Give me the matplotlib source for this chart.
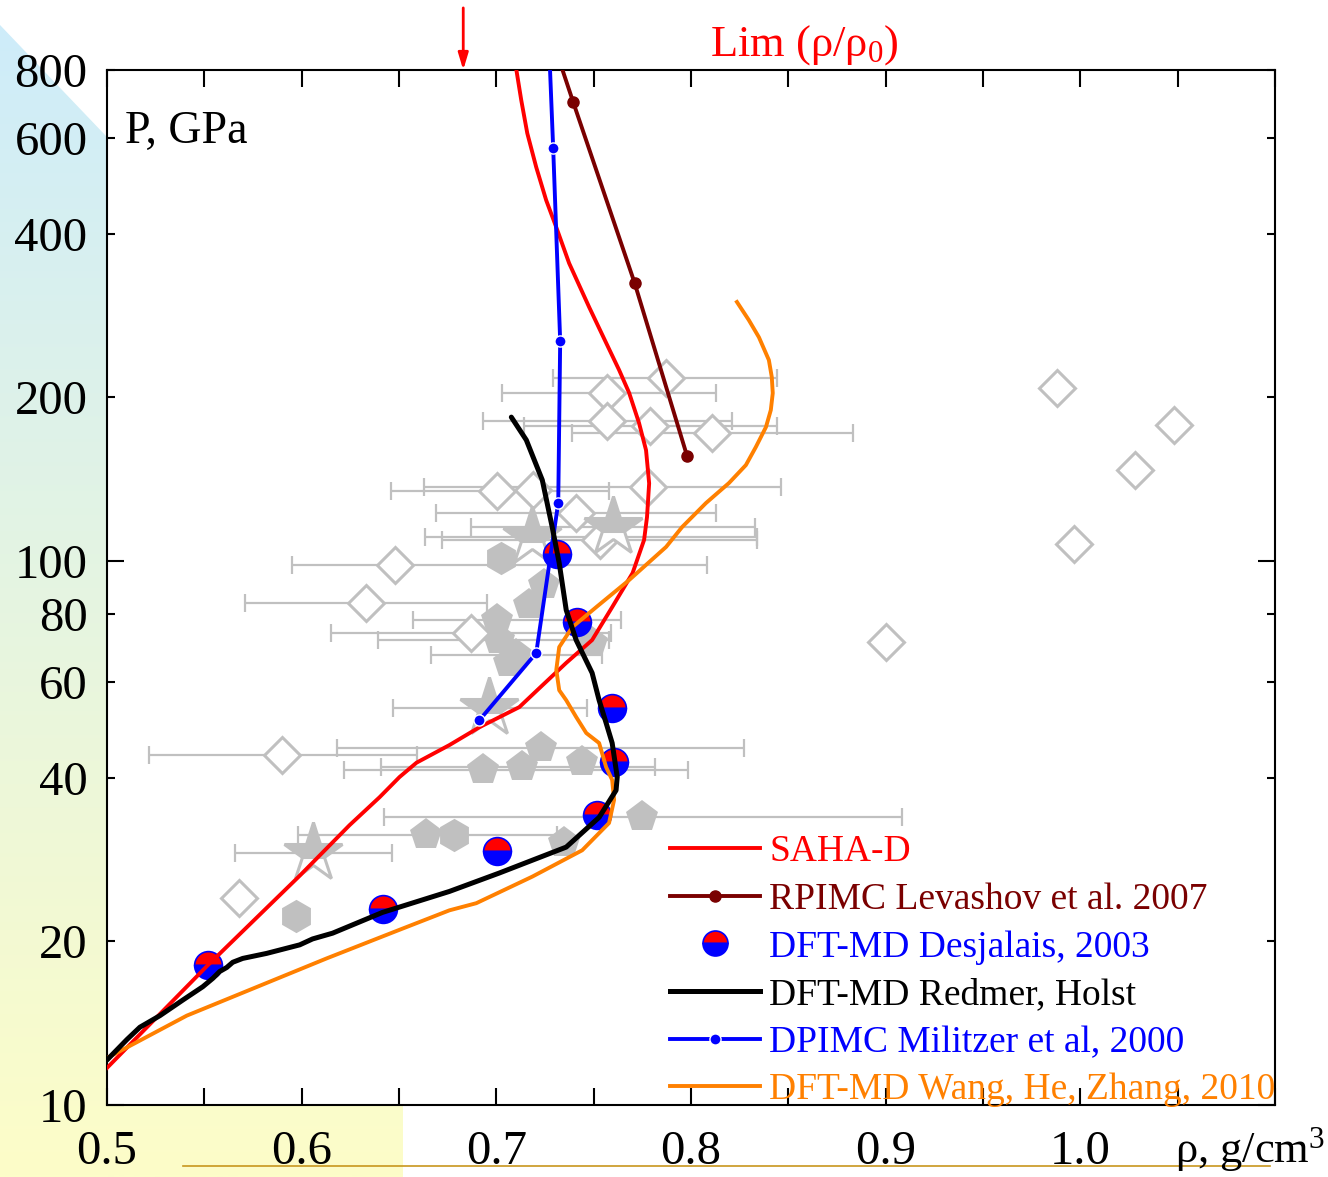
import numpy as np
import matplotlib
matplotlib.use("Agg")
import matplotlib.pyplot as plt
from matplotlib.lines import Line2D
from matplotlib.patches import Polygon
from matplotlib.ticker import FixedLocator, FuncFormatter

plt.rcParams['font.family'] = ['Liberation Serif', 'DejaVu Serif']
plt.rcParams['mathtext.fontset'] = 'custom'
plt.rcParams['mathtext.rm'] = 'Liberation Serif'
plt.rcParams['mathtext.it'] = 'Liberation Serif'
plt.rcParams['mathtext.default'] = 'regular'

# ---------------- data ----------------
# SAHA-D (red)
saha_x = [0.500, 0.5513, 0.599, 0.6246, 0.640, 0.6503, 0.659, 0.6759, 0.6913, 0.7118,
          0.7221, 0.7359, 0.7492, 0.7595, 0.770, 0.7759, 0.7774, 0.7785, 0.7769, 0.7733,
          0.7682, 0.7631, 0.7564, 0.7477, 0.7374, 0.7308, 0.7256, 0.7205, 0.7159, 0.7128,
          0.7103]
saha_p = [11.7, 18.0, 26.4, 32.7, 36.8, 40.1, 42.6, 45.9, 49.5, 53.9,
          58.4, 65.0, 71.6, 82.3, 95.1, 109.4, 120.5, 139, 160, 179.5,
          204, 224.5, 252, 293, 353, 411, 461, 530, 612, 704,
          800]

# RPIMC Levashov 2007 (dark red)
rpimc_x = [0.725, 0.7395, 0.771, 0.798]
rpimc_p = [1000, 698, 325, 156]

# DFT-MD Desjarlais 2003 (half circles)
desj_x = [0.5518, 0.642, 0.7005, 0.7518, 0.7605, 0.7595, 0.7415, 0.7313]
desj_p = [18.1, 22.9, 29.3, 34.1, 42.7, 53.7, 77.3, 103.1]

# DFT-MD Redmer, Holst (black)
redm_x = [0.500, 0.5103, 0.5169, 0.5272, 0.539, 0.5492, 0.5544, 0.5579, 0.5615, 0.5646,
          0.5697, 0.582, 0.599, 0.6056, 0.6159, 0.6415, 0.6759, 0.7015, 0.7359, 0.7528,
          0.7615, 0.7621, 0.7595, 0.7564, 0.7528, 0.7492, 0.741, 0.7359, 0.7323, 0.7287,
          0.7236, 0.7154, 0.7077]
redm_p = [12.1, 13.2, 13.9, 14.6, 15.6, 16.5, 17.1, 17.6, 17.9, 18.3,
          18.6, 19.0, 19.7, 20.2, 20.7, 22.6, 24.7, 26.7, 29.8, 33.8,
          37.9, 40.1, 46.3, 50.4, 55.5, 62.3, 71.6, 81.3, 99.2, 115.5,
          141, 167, 184]

# DPIMC Militzer 2000 (blue)
dpimc_x = [0.6913, 0.7205, 0.7318, 0.7328, 0.7292, 0.7265]
dpimc_p = [51.0, 67.8, 128, 254, 575, 1000]

# DFT-MD Wang, He, Zhang 2010 (orange)
wang_x = [0.500, 0.541, 0.6128, 0.6503, 0.6759, 0.6897, 0.7185, 0.7441, 0.7579, 0.7605,
          0.7595, 0.7564, 0.7528, 0.7462, 0.741, 0.7359, 0.7323, 0.7308, 0.7323, 0.739,
          0.7513, 0.7682, 0.7872, 0.7954, 0.8077, 0.8195, 0.8282, 0.8333, 0.8385, 0.841,
          0.842, 0.8415, 0.840, 0.8349, 0.8297, 0.8236]
wang_p = [12.2, 14.6, 18.6, 21.0, 22.8, 23.5, 26.3, 29.4, 33.0, 36.4,
          39.6, 41.8, 46.3, 48.3, 51.7, 55.5, 57.9, 63.1, 69.5, 75.6,
          82.3, 92.3, 106.2, 115.5, 127.9, 139.2, 150.2, 162.1, 176.4, 189.6,
          203.7, 218, 234.3, 258, 277.5, 299.6]

# Experimental data (grey): open diamonds with horizontal error bars
dia_x = [0.787, 0.757, 0.757, 0.779, 0.811, 0.7005, 0.719, 0.778, 0.741, 0.753,
         0.648, 0.633, 0.687, 0.590, 0.568, 0.988, 1.048, 1.028, 0.997, 0.900]
dia_p = [217, 204, 181, 177, 172, 134.5, 135.3, 136.8, 122.6, 109.3,
         98.4, 83.7, 73.8, 44.0, 24.0, 208, 178, 147, 107.5, 71.0]
dia_lo = [0.729, 0.703, 0.693, 0.714, 0.739, 0.646, np.nan, 0.663, 0.669, 0.672,
          0.595, 0.571, 0.615, 0.5215, np.nan, np.nan, np.nan, np.nan, np.nan, np.nan]
dia_hi = [0.844, 0.813, 0.821, 0.844, 0.883, 0.758, np.nan, 0.846, 0.813, 0.834,
          0.808, 0.695, 0.759, 0.659, np.nan, np.nan, np.nan, np.nan, np.nan, np.nan]

# stars
star_x = [0.760, 0.7185, 0.6964, 0.6056]
star_p = [115.5, 110.7, 53.8, 29.1]
star_lo = [0.687, 0.6636, 0.6467, 0.5656]
star_hi = [0.833, 0.834, 0.7467, 0.6462]

# filled pentagons
pent_x = [0.693, 0.7133, 0.7231, 0.7441, 0.7749, 0.6641, 0.7349, 0.7246, 0.7169, 0.7005,
          0.7015, 0.7103, 0.7492, 0.7067]
pent_p = [41.3, 41.8, 45.3, 42.7, 33.8, 31.4, 30.3, 90.4, 83.1, 77.9,
          71.6, 67.2, 70.7, 65.0]
pent_lo = [0.6215, 0.641, 0.6179, np.nan, 0.6421, 0.5979, np.nan, np.nan, np.nan, 0.6574,
           0.639, 0.6662, np.nan, np.nan]
pent_hi = [0.7985, 0.7815, 0.8272, np.nan, 0.9082, 0.7313, np.nan, np.nan, np.nan, 0.7641,
           0.7579, 0.7544, np.nan, np.nan]

# filled hexagons
hex_x = [0.7026, 0.6785, 0.5969]
hex_p = [101.3, 31.4, 22.3]

legend_labels = ["SAHA-D", "RPIMC Levashov et al. 2007", "DFT-MD Desjalais, 2003",
                 "DFT-MD Redmer, Holst", "DPIMC Militzer et al, 2000",
                 "DFT-MD Wang, He, Zhang, 2010"]

x_ticks = [0.5, 0.6, 0.7, 0.8, 0.9, 1.0, 1.1]
y_major = [10, 100]
y_minor = [20, 40, 60, 80, 200, 400, 600, 800]

# ---------------- colours ----------------
RED = '#ff0000'
DRED = '#7a0000'
BLUE = '#0000ff'
ORANGE = '#ff8000'
GREY = '#c0c0c0'

W, H = 1328, 1177
fig = plt.figure(figsize=(W / 100, H / 100), dpi=100)
fig.patch.set_facecolor('white')

# decorative background gradient (slide decoration)
ax_bg = fig.add_axes([0, 0, 1, 1], zorder=0)
ax_bg.set_xlim(0, W)
ax_bg.set_ylim(H, 0)
ax_bg.axis('off')
top_c = np.array([205, 236, 251]) / 255
bot_c = np.array([253, 253, 200]) / 255
t = np.linspace(0, 1, 256)[:, None]
grad = (top_c[None, :] * (1 - t) + bot_c[None, :] * t)[:, None, :]
im = ax_bg.imshow(grad, extent=[0, W, H, 0], aspect='auto', interpolation='bilinear')
clip = Polygon([(0, 25), (403, 447), (403, H), (0, H)], closed=True,
               transform=ax_bg.transData, facecolor='none', edgecolor='none')
ax_bg.add_patch(clip)
im.set_clip_path(clip)
ax_bg.plot([183, 1270], [1166, 1166], color='#c8961e', lw=1.2)

# main axes
ax = fig.add_axes([107 / W, 72 / H, 1168 / W, 1035 / H], zorder=1)
ax.set_facecolor('white')
ax.set_yscale('log')
ax.set_xlim(0.5, 1.1)
ax.set_ylim(10, 800)

def err_draw(xs, ps, lo, hi):
    xs = np.array(xs, float); ps = np.array(ps, float)
    lo = np.array(lo, float); hi = np.array(hi, float)
    m = ~np.isnan(lo)
    ax.errorbar(xs[m], ps[m], xerr=[xs[m] - lo[m], hi[m] - xs[m]], fmt='none',
                ecolor=GREY, elinewidth=1.6, capsize=6.5, capthick=1.6, zorder=1)

err_draw(dia_x, dia_p, dia_lo, dia_hi)
err_draw(star_x, star_p, star_lo, star_hi)
err_draw(pent_x, pent_p, pent_lo, pent_hi)

ax.plot(pent_x, pent_p, 'p', ms=24, mfc=GREY, mec=GREY, mew=0, ls='none', zorder=2)
ax.plot(hex_x, hex_p, 'h', ms=24, mfc=GREY, mec=GREY, mew=0, ls='none', zorder=2)
ax.plot(dia_x, dia_p, 'D', ms=18, mfc='white', mec=GREY, mew=2.2, ls='none', zorder=2)
ax.plot(star_x, star_p, '*', ms=44, mfc=GREY, mfcalt='white', fillstyle='top',
        mec=GREY, mew=2.2, ls='none', zorder=2)

# Desjarlais half circles
ax.plot(desj_x, desj_p, 'o', ms=20, fillstyle='top', mfc=RED, mfcalt=BLUE,
        mec=BLUE, mew=1.2, ls='none', zorder=3)

# model curves
ax.plot(saha_x, saha_p, color=RED, lw=2.8, zorder=4, solid_joinstyle='round')
ax.plot(wang_x, wang_p, color=ORANGE, lw=2.8, zorder=5, solid_joinstyle='round')
ax.plot(rpimc_x, rpimc_p, color=DRED, lw=2.8, marker='o', ms=8, mfc=DRED, mec=DRED, zorder=6)
ax.plot(dpimc_x, dpimc_p, color=BLUE, lw=2.8, marker='o', ms=8, mfc=BLUE, mec='white',
        mew=1.0, zorder=6)
ax.plot(redm_x, redm_p, color='black', lw=3.6, zorder=7, solid_joinstyle='round',
        solid_capstyle='round')

# ticks
ax.xaxis.set_major_locator(FixedLocator(x_ticks))
ax.xaxis.set_minor_locator(FixedLocator([v + 0.05 for v in x_ticks[:-1]]))
ax.xaxis.set_major_formatter(FuncFormatter(lambda v, p: '' if v > 1.05 else f'{v:.1f}'))
ax.yaxis.set_major_locator(FixedLocator(y_major))
ax.yaxis.set_minor_locator(FixedLocator(y_minor))
ax.yaxis.set_major_formatter(FuncFormatter(lambda v, p: f'{v:g}'))
ax.yaxis.set_minor_formatter(FuncFormatter(lambda v, p: f'{v:g}'))
ax.tick_params(axis='both', which='both', direction='in', top=True, right=True,
               width=1.5, labelsize=35, colors='black')
ax.tick_params(axis='x', which='both', length=12, pad=18)
ax.tick_params(axis='y', which='major', length=12, pad=14)
ax.tick_params(axis='y', which='minor', length=6, pad=14)
for s in ax.spines.values():
    s.set_linewidth(1.5)

# texts
ax.text(0.015, 0.94, 'P, GPa', transform=ax.transAxes, fontsize=33, va='center', ha='left')
fig.text(710 / W, 1 - 45 / H, r'Lim ($\rho/\rho_0$)', color=RED, fontsize=32,
         ha='left', va='center')
fig.text(1175 / W, 1 - 1150 / H, r'ρ, g/cm$^3$', fontsize=32, ha='left', va='center')

ax.annotate('', xy=(0.683, 1.0), xycoords=('data', 'axes fraction'),
            xytext=(0.683, 1.06), textcoords=('data', 'axes fraction'),
            arrowprops=dict(arrowstyle='-|>,head_length=1.0,head_width=0.3',
                            color=RED, lw=2, shrinkA=0, shrinkB=0),
            annotation_clip=False)

# legend
handles = [
    Line2D([], [], color=RED, lw=2.8),
    Line2D([], [], color=DRED, lw=2.8, marker='o', ms=8),
    Line2D([], [], ls='none', marker='o', ms=18, fillstyle='top', mfc=RED, mfcalt=BLUE,
           mec=BLUE, mew=1.2),
    Line2D([], [], color='black', lw=3.6),
    Line2D([], [], color=BLUE, lw=2.8, marker='o', ms=8, mec='white', mew=1.0),
    Line2D([], [], color=ORANGE, lw=2.8),
]
leg = ax.legend(handles, legend_labels, loc='upper left', bbox_to_anchor=(0.482, 0.261),
                frameon=False, fontsize=27, handlelength=2.4, handletextpad=0.25,
                labelspacing=0.35, borderpad=0, borderaxespad=0, numpoints=1,
                labelcolor=[RED, DRED, BLUE, 'black', BLUE, ORANGE])
leg.set_zorder(10)

fig.savefig('out.png', dpi=100, facecolor='white')
